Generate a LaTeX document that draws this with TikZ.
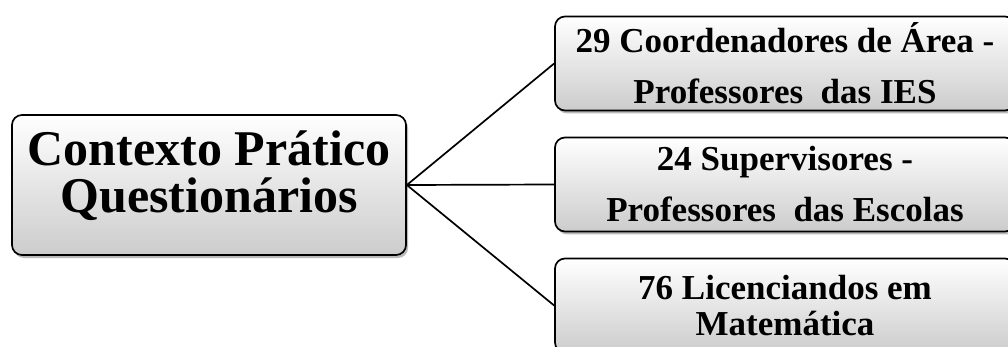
\documentclass[tikz,border=0pt]{standalone}
\usepackage{fontspec}
\setmainfont{Liberation Serif}
\usetikzlibrary{shadows}
\tikzset{
  card/.style={draw=black, line width=1.7pt, rounded corners=10pt,
    top color=white, bottom color=black!20, align=center, inner sep=0pt,
    drop shadow={shadow xshift=2pt, shadow yshift=-3pt, fill=black!45, opacity=0.6}},
  mainbox/.style={card, minimum width=394pt, minimum height=140pt,
    font=\fontsize{50}{47}\selectfont\bfseries},
  leafbox/.style={card, minimum width=460pt, minimum height=94pt,
    font=\fontsize{35}{51}\selectfont\bfseries},
  tightleaf/.style={leafbox, font=\fontsize{35}{36}\selectfont\bfseries},
  link/.style={draw=black, line width=1.7pt}
}
\begin{document}
\begin{tikzpicture}[x=1pt,y=-1pt]
\useasboundingbox (0,0) rectangle (1008,347);
\node[mainbox] (ctx) at (209,185) {Contexto Prático\\Questionários\\[-34pt]\strut};
\node[leafbox] (coord) at (785,63.5) {29 Coordenadores de Área -\\Professores\ \ das IES};
\node[leafbox] (sup) at (785,184.5) {24 Supervisores -\\Professores\ \ das Escolas};
\node[tightleaf] (lic) at (785,305.5) {76 Licenciandos em\\Matemática};
\draw[link] (ctx.east) -- (coord.west);
\draw[link] (ctx.east) -- (sup.west);
\draw[link] (ctx.east) -- (lic.west);
\end{tikzpicture}
\end{document}
